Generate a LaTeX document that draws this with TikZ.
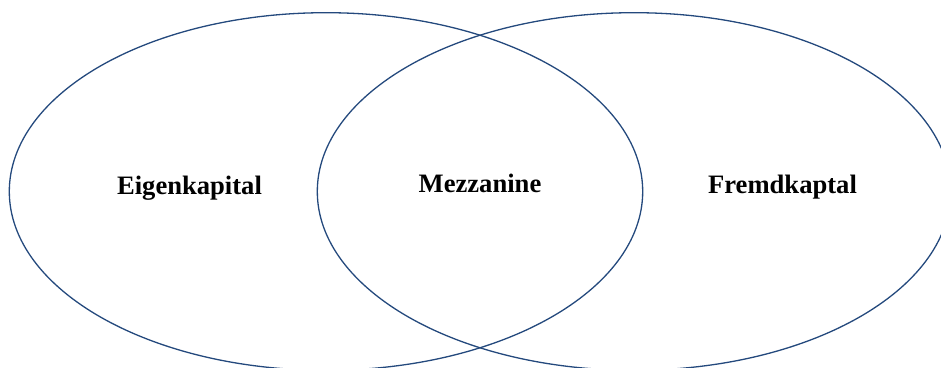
\documentclass[tikz,border=0pt]{standalone}
\usepackage{fontspec}
\setmainfont{Liberation Serif}
\usetikzlibrary{shapes.geometric}
\definecolor{ringblue}{RGB}{36,73,125}
\tikzset{
  ring/.style={draw=ringblue, line width=1.3pt, ellipse, inner sep=0pt,
    minimum width=633.4pt, minimum height=357.6pt},
  lbl/.style={font=\fontsize{26.6pt}{30pt}\selectfont\bfseries, anchor=base, inner sep=0pt}
}
\begin{document}
\begin{tikzpicture}[x=1pt,y=-1pt]
\useasboundingbox (0,0) rectangle (941,367);
\clip (0,0) rectangle (941,367);
\node[ring] (left) at (326,191.5) {};
\node[ring] (right) at (634,191.5) {};
\node[lbl] (eigen) at (189.5,194) {Eigenkapital};
\node[lbl] (mezz) at (480,192) {Mezzanine};
\node[lbl] (fremd) at (782.5,193.5) {Fremdkaptal};
\end{tikzpicture}
\end{document}
